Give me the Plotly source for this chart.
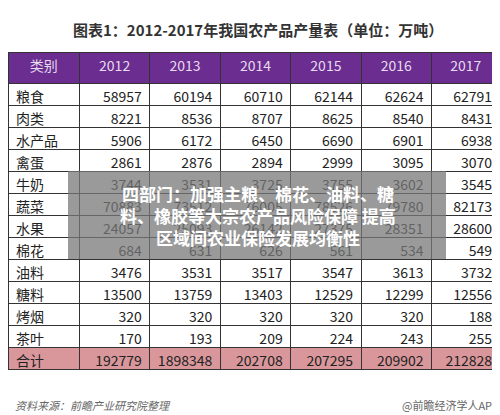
import plotly.graph_objects as go

# --- DATA ---
categories = ["粮食", "肉类", "水产品", "禽蛋", "牛奶", "蔬菜", "水果", "棉花", "油料", "糖料", "烤烟", "茶叶", "合计"]
years = ["2012", "2013", "2014", "2015", "2016", "2017"]
v2012 = [58957, 8221, 5906, 2861, 3744, 70883, 24057, 684, 3476, 13500, 320, 170, 192779]
v2013 = [60194, 8536, 6172, 2876, 3531, 73512, 25093, 631, 3531, 13759, 320, 193, 1898348]
v2014 = [60710, 8707, 6450, 2894, 3725, 76005, 26142, 626, 3517, 13403, 320, 209, 202708]
v2015 = [62144, 8625, 6690, 2999, 3755, 78526, 27375, 561, 3547, 12529, 320, 224, 207295]
v2016 = [62624, 8540, 6901, 3095, 3602, 79780, 28351, 534, 3613, 12299, 320, 243, 209902]
v2017 = [62791, 8431, 6938, 3070, 3545, 82173, 28600, 549, 3732, 12556, 188, 255, 212828]

TITLE = "图表1：2012-2017年我国农产品产量表（单位：万吨）"
OVERLAY = "四部门：加强主粮、棉花、油料、糖<br>料、橡胶等大宗农产品风险保障 提高<br>区域间农业保险发展均衡性"

W, H = 500, 415
FONT = "Noto Sans CJK SC"

n = len(categories)
fill_col = ["white"] * (n - 1) + ["#d9979c"]

fig = go.Figure(go.Table(
    domain=dict(x=[0, 0.985], y=[1 - 398 / H, 1 - 44 / H]),
    columnwidth=[73, 72, 72, 72, 72, 72, 70],
    header=dict(
        values=["类别"] + years,
        fill_color="#6b2d8f",
        line_color="#333333",
        font=dict(family=FONT, size=14, color="#e6dcef"),
        align="center",
        height=31,
    ),
    cells=dict(
        values=[categories, v2012, v2013, v2014, v2015, v2016, v2017],
        fill_color=[fill_col] * 7,
        line_color="#333333",
        font=dict(family=FONT, size=14, color="#222222"),
        align=["left"] + ["right"] * 6,
        height=22,
    ),
))

fig.add_annotation(text="<b>" + TITLE + "</b>", xref="paper", yref="paper",
                   x=0.5, y=1 - 22 / H, yanchor="middle", showarrow=False,
                   font=dict(family=FONT, size=15, color="#333333"))

fig.add_annotation(text="<i>资料来源：前瞻产业研究院整理</i>", xref="paper", yref="paper",
                   x=0.01, y=1 - 397 / H, xanchor="left", yanchor="middle", showarrow=False,
                   font=dict(family=FONT, size=11, color="#666666"), bgcolor="white")
fig.add_annotation(text="@前瞻经济学人APP", xref="paper", yref="paper",
                   x=0.985, y=1 - 397 / H, xanchor="right", yanchor="middle", showarrow=False,
                   font=dict(family=FONT, size=11, color="#666666"), bgcolor="white")

# gray news overlay
fig.add_shape(type="rect", xref="paper", yref="paper",
              x0=60 / W, x1=438 / W, y0=1 - 251 / H, y1=1 - 163 / H,
              fillcolor="rgba(120,120,120,0.75)", line_width=0, layer="above")
fig.add_annotation(text="<b>" + OVERLAY + "</b>", xref="paper", yref="paper",
                   x=0.5, y=1 - 207 / H, yanchor="middle", showarrow=False, align="center",
                   font=dict(family=FONT, size=17, color="white"))

fig.update_layout(width=W, height=H, margin=dict(l=0, r=0, t=0, b=0),
                  paper_bgcolor="white", plot_bgcolor="white")

fig.write_html("out.html")
